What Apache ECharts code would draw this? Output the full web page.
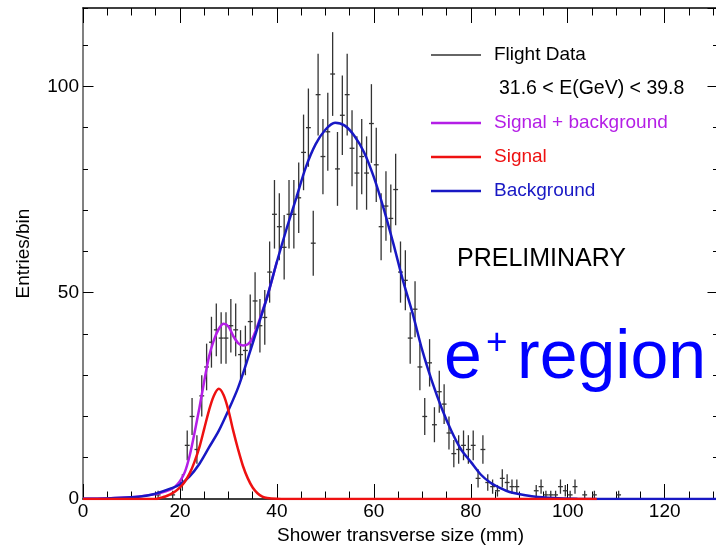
<!DOCTYPE html>
<html>
<head>
<meta charset="utf-8">
<script src="https://cdn.jsdelivr.net/npm/echarts@6/dist/echarts.min.js"></script>
<style>
html,body{margin:0;padding:0;background:#fff;}
#chart{width:716px;height:545px;}
</style>
</head>
<body>
<div id="chart"></div>
<script>
// ---- Data ----
// Histogram bins (bin centre, mm) and entries per bin (empty bins omitted)
var binX = [15.5,18.5,20.5,21.5,22.5,23.5,24.5,25.5,26.5,27.5,28.5,29.5,30.5,31.5,32.5,33.5,34.5,35.5,36.5,37.5,38.5,39.5,40.5,41.5,42.5,43.5,44.5,45.5,46.5,47.5,48.5,49.5,50.5,51.5,52.5,53.5,54.5,55.5,56.5,57.5,58.5,59.5,60.5,61.5,62.5,63.5,64.5,65.5,66.5,67.5,68.5,69.5,70.5,71.5,72.5,73.5,74.5,75.5,76.5,77.5,78.5,79.5,80.5,81.5,82.5,83.5,84.5,85.5,86.5,87.5,88.5,89.5,93.5,94.5,95.5,96.5,97.5,98.5,99.5,100.5,101.5,103.5,105.5,110.5];
var binCounts = [1,1,4,13,20,12,25,32,38,41,39,39,42,41,35,36,43,48,42,44,55,69,66,61,69,69,73,84,90,62,98,83,89,103,80,93,98,85,79,83,79,91,81,66,71,68,75,55,53,39,46,32,20,33,18,26,23,16,11,12,13,12,13,5,12,4,3,2,5,4,3,3,2,3,1,1,1,3,2,1,3,1,1,1];

// Fit curves
var bgX = [0,5,10,13,15,18,20,22,24,26,28,30,32,34,36,38,40,42,44,46,48,50,52,54,56,58,60,62,64,66,68,70,72,74,76,78,80,82,84,86,88,90,93,97,102,110,131];
var bgY = [0.05,0.15,0.4,0.8,1.3,2.5,3.5,5.5,8.5,12.5,16.5,21.5,27,34,41.5,49,57.5,65.5,73,80.5,86,89.5,91.2,90.5,88,84,78,70.5,62,53,45,36,28.5,22,16.5,12,9,6,4,2.7,1.7,1.2,0.6,0.25,0.08,0,0];

var sigX = [0,15,16,17,18,19,20,21,22,23,24,25,26,27,28,29,30,31,32,33,34,35,36,37,38,40,42,106];
var sigY = [0,0,0.3,0.6,1.1,1.8,2.8,4.2,6.2,9,12.5,17,21.5,25,26.7,25.2,21.5,16.5,12,8,5,2.8,1.4,0.6,0.25,0.05,0,0];

var sbX = [0,5,10,14,16,18,19,20,21,22,23,24,25,26,27,28,29,30,31,32,33,34,35,36,37,38,40];
var sbY = [0.05,0.15,0.4,1,1.5,2.3,3,4.3,6.5,10.5,16,22,28.5,34.5,38.5,41.2,42.5,41.8,39.5,37.8,37.2,37.5,39,42,45.5,49,57.5];

var xTicksMajor = 20, xTicksMinor = 5, yTicksMajor = 50, yTicksMinor = 10;

function pairs(xs, ys){ return xs.map(function(x,i){ return [x, ys[i]]; }); }

var FONT = 'Liberation Sans, Arial, Helvetica, sans-serif';
var C_DATA = '#333333', C_SB = '#b41ee6', C_SIG = '#ee1111', C_BG = '#1818c4';

var chart = echarts.init(document.getElementById('chart'), null, {renderer:'canvas'});

var gridDef = {left:83, top:8, width:635, height:491, containLabel:false, outerBoundsMode:'none'};

function xAx(pos, interval, len, showLine, showLabel, name){
  var a = {
    type:'value', min:0, max:131, interval:interval, position:pos,
    axisLine:{show:showLine, onZero:false, lineStyle:{color:'#000', width:1.5}},
    axisTick:{show:true, inside:true, length:len, lineStyle:{color:'#000', width:1}},
    axisLabel:{show:showLabel, color:'#000', fontFamily:FONT, fontSize:19, margin:3, showMaxLabel:false},
    splitLine:{show:false}
  };
  if (name){ a.name = name; a.nameLocation='middle'; a.nameGap=27;
    a.nameTextStyle = {color:'#000', fontFamily:FONT, fontSize:19}; }
  return a;
}
function yAx(pos, interval, len, showLine, showLabel, name, lineColor){
  var a = {
    type:'value', min:0, max:119, interval:interval, position:pos,
    axisLine:{show:showLine, onZero:false, lineStyle:{color:lineColor||'#000', width:2}},
    axisTick:{show:true, inside:true, length:len, lineStyle:{color:'#000', width:1}},
    axisLabel:{show:showLabel, color:'#000', fontFamily:FONT, fontSize:19, margin:4, showMaxLabel:false},
    splitLine:{show:false}
  };
  if (name){ a.name = name; a.nameLocation='middle'; a.nameGap=50;
    a.nameTextStyle = {color:'#000', fontFamily:FONT, fontSize:19, padding:[0,0,0,0]}; }
  return a;
}

var option = {
  animation:false,
  backgroundColor:'#fff',
  grid: gridDef,
  xAxis: [
    xAx('bottom', xTicksMajor, 15, true, true, 'Shower transverse size (mm)'),
    xAx('bottom', xTicksMinor, 7.5, false, false),
    xAx('top', xTicksMajor, 15, true, false),
    xAx('top', xTicksMinor, 7.5, false, false)
  ],
  yAxis: [
    yAx('left', yTicksMajor, 10.5, true, true, 'Entries/bin', '#808080'),
    yAx('left', yTicksMinor, 5, false, false),
    yAx('right', yTicksMajor, 10.5, true, false),
    yAx('right', yTicksMinor, 5, false, false)
  ],
  legend: [
    {
      orient:'vertical', left:431, top:45.5, padding:0, itemWidth:50, itemHeight:1.5, itemGap:15,
      textStyle:{fontFamily:FONT, fontSize:19, color:'#000', padding:[0,0,0,8]},
      data:[{name:'Flight Data', icon:'rect'}], selectedMode:false
    },
    {
      orient:'vertical', left:431, top:113.5, padding:0, itemWidth:50, itemHeight:2.5, itemGap:15,
      textStyle:{fontFamily:FONT, fontSize:19, padding:[0,0,0,8]},
      data:[
        {name:'Signal + background', icon:'rect', textStyle:{color:C_SB}},
        {name:'Signal', icon:'rect', textStyle:{color:C_SIG}},
        {name:'Background', icon:'rect', textStyle:{color:C_BG}}
      ], selectedMode:false
    }
  ],
  graphic: [
    {type:'text', left:499, top:79, style:{text:'31.6 < E(GeV) < 39.8', font:'19.5px '+FONT, fill:'#000'}},
    {type:'text', left:457, top:247, style:{text:'PRELIMINARY', font:'25px '+FONT, fill:'#000'}},
    {type:'text', left:444, top:325, style:{text:'e', font:'68px '+FONT, fill:'#0000ff'}},
    {type:'text', left:486, top:325, style:{text:'+', font:'37px '+FONT, fill:'#0000ff'}},
    {type:'text', left:517, top:325, style:{text:'region', font:'68px '+FONT, fill:'#0000ff'}}
  ],
  series: [
    {
      name:'Flight Data', type:'custom', xAxisIndex:0, yAxisIndex:0, clip:true, z:2,
      itemStyle:{color:C_DATA},
      data: pairs(binX, binCounts),
      renderItem: function(params, api){
        var x = api.value(0), y = api.value(1), e = Math.sqrt(y);
        var top = api.coord([x, y + e]), bot = api.coord([x, Math.max(0, y - e)]);
        var l = api.coord([x - 0.5, y]), r = api.coord([x + 0.5, y]);
        var st = {stroke:C_DATA, lineWidth:1.3};
        return {type:'group', children:[
          {type:'line', shape:{x1:top[0], y1:top[1], x2:bot[0], y2:bot[1]}, style:st},
          {type:'line', shape:{x1:l[0], y1:l[1], x2:r[0], y2:r[1]}, style:st}
        ]};
      }
    },
    {
      name:'Signal + background', type:'line', z:3, showSymbol:false, smooth:0.3,
      color:C_SB, lineStyle:{color:C_SB, width:2.5}, data: pairs(sbX, sbY)
    },
    {
      name:'Background', type:'line', z:4, showSymbol:false, smooth:0.3,
      color:C_BG, lineStyle:{color:C_BG, width:2.5}, data: pairs(bgX, bgY)
    },
    {
      name:'Signal', type:'line', z:5, showSymbol:false, smooth:0.3,
      color:C_SIG, lineStyle:{color:C_SIG, width:2.5}, data: pairs(sigX, sigY)
    }
  ]
};
chart.setOption(option);
</script>
</body>
</html>
